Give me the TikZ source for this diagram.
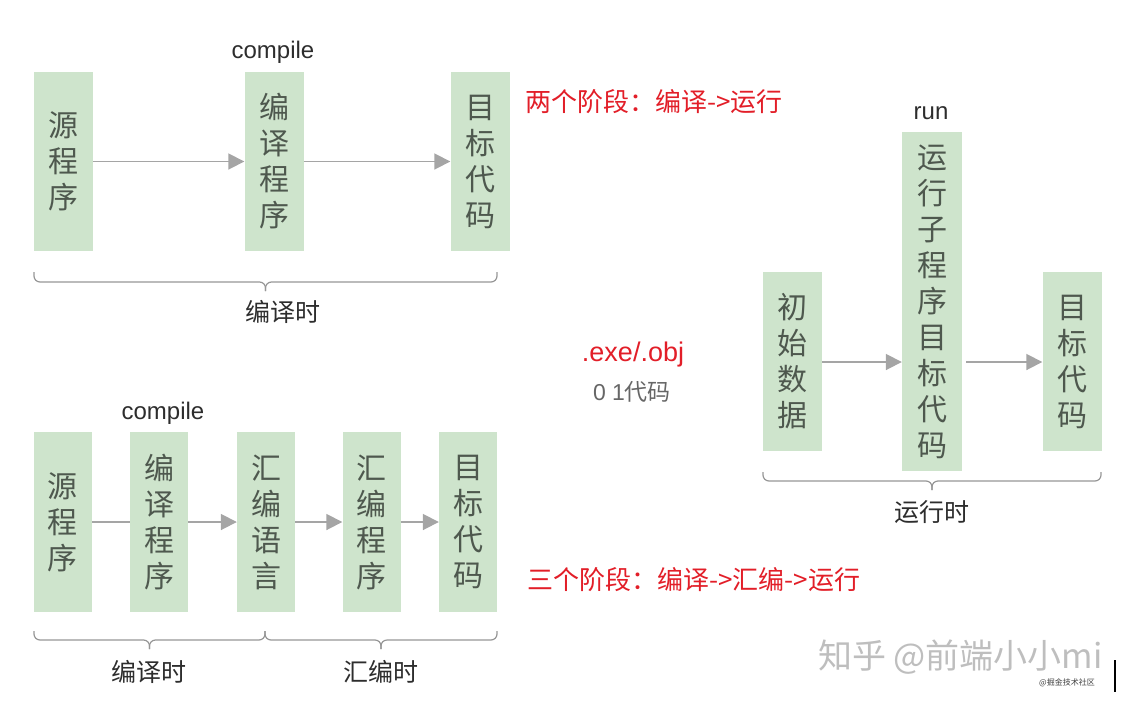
\documentclass[tikz,border=0pt]{standalone}
\usepackage{fontspec}
\setmainfont{Noto Sans CJK SC}
\newfontfamily\latin{Liberation Sans}
\usetikzlibrary{arrows.meta,backgrounds}
\definecolor{boxgreen}{RGB}{206,228,204}
\definecolor{boxtext}{RGB}{78,88,78}
\definecolor{arrowgray}{RGB}{165,165,165}
\definecolor{bracegray}{RGB}{150,150,150}
\definecolor{redtext}{RGB}{226,30,40}
\definecolor{labeltext}{RGB}{45,45,45}
\definecolor{marktext}{RGB}{190,190,190}
\tikzset{
  gbox/.style={fill=boxgreen, draw=none, inner sep=0pt, text=boxtext, align=center,
    font=\fontsize{30}{36}\selectfont, minimum width=59pt},
  flow/.style={draw=arrowgray, line width=1.8pt, -{Triangle[length=16pt,width=16pt]}},
  brcline/.style={draw=bracegray, line width=1.2pt, rounded corners=6pt},
  lbl/.style={text=labeltext, font=\fontsize{25}{30}\selectfont, inner sep=0pt},
  eng/.style={text=labeltext, font=\latin\fontsize{24}{28}\selectfont, inner sep=0pt},
  redlbl/.style={text=redtext, font=\fontsize{26}{30}\selectfont, inner sep=0pt, anchor=west},
}
\newcommand\mybrace[5]{% x1 x2 yEnd yLine yTip
  \pgfmathsetmacro\xm{(#1+#2)/2}
  \draw[brcline] (#1,#3) |- (\xm,#4) -- (\xm,#5);
  \draw[brcline] (\xm,#5) -- (\xm,#4) -| (#2,#3);
}
\begin{document}
\begin{tikzpicture}[x=1pt,y=-1pt]
\useasboundingbox (0,0) rectangle (1130,702);

% ---------- top row ----------
\node[gbox, minimum height=179pt] (t1) at (63.5,161.5) {源\\程\\序};
\node[gbox, minimum height=179pt] (t2) at (274,161.5) {编\\译\\程\\序};
\node[gbox, minimum height=179pt] (t3) at (480,161.5) {目\\标\\代\\码};
\node[eng] (tc) at (273,52) {compile};
\node[redlbl] (tr) at (525,102) {两个阶段：编译->运行};
\draw[flow] (t1.east) -- (t2.west);
\draw[flow] (t2.east) -- (t3.west);
\mybrace{34}{497}{272}{282}{291}
\node[lbl] (tl) at (283,312) {编译时};

% ---------- bottom row ----------
\node[gbox, minimum width=58pt, minimum height=180pt] (b1) at (62.5,522) {源\\程\\序};
\node[gbox, minimum width=58pt, minimum height=180pt] (b2) at (159,522) {编\\译\\程\\序};
\node[gbox, minimum width=58pt, minimum height=180pt] (b3) at (266,522) {汇\\编\\语\\言};
\node[gbox, minimum width=58pt, minimum height=180pt] (b4) at (371.5,522) {汇\\编\\程\\序};
\node[gbox, minimum width=58pt, minimum height=180pt] (b5) at (468,522) {目\\标\\代\\码};
\node[eng] (bc) at (163,413) {compile};
\node[redlbl] (br) at (527,580) {三个阶段：编译->汇编->运行};
\begin{scope}[on background layer]
\draw[flow] (b1.east) -- (b3.west);
\end{scope}
\draw[flow] (b3.east) -- (b4.west);
\draw[flow] (b4.east) -- (b5.west);
\mybrace{34}{265}{631}{640}{649}
\mybrace{265}{497}{631}{640}{649}
\node[lbl] (bl1) at (149,672) {编译时};
\node[lbl] (bl2) at (381,672) {汇编时};

% ---------- middle ----------
\node[text=redtext, font=\latin\fontsize{27}{30}\selectfont, inner sep=0pt] (exe) at (633,355) {.exe/.obj};
\node[text=black!60, font=\fontsize{23}{26}\selectfont, inner sep=0pt] (bin) at (632,392) {{\latin 0 1}代码};

% ---------- right ----------
\node[gbox, minimum height=179pt] (r1) at (792.5,361.5) {初\\始\\数\\据};
\node[gbox, minimum width=60pt, minimum height=339pt] (r2) at (932,301.5) {运\\行\\子\\程\\序\\目\\标\\代\\码};
\node[gbox, minimum height=179pt] (r3) at (1072,361.5) {目\\标\\代\\码};
\node[eng] (rrun) at (931,113) {run};
\draw[flow] (r1.east |- 0,362) -- (r2.west |- 0,362);
\draw[flow] ([xshift=4pt]r2.east |- 0,362) -- (r3.west |- 0,362);
\mybrace{763}{1101}{472}{481}{490}
\node[lbl] (rl) at (932,512) {运行时};

% ---------- watermark ----------
\node[text=marktext, font=\fontsize{34}{36}\selectfont, inner sep=0pt, anchor=west] (wm) at (818,657) {知乎 @前端小小mi};
\node[text=black!75, font=\fontsize{8}{10}\selectfont, inner sep=0pt, anchor=east] (wm2) at (1095,683) {@掘金技术社区};
\draw[black, line width=1.5pt] (1115,660) -- (1115,692);
\end{tikzpicture}
\end{document}
